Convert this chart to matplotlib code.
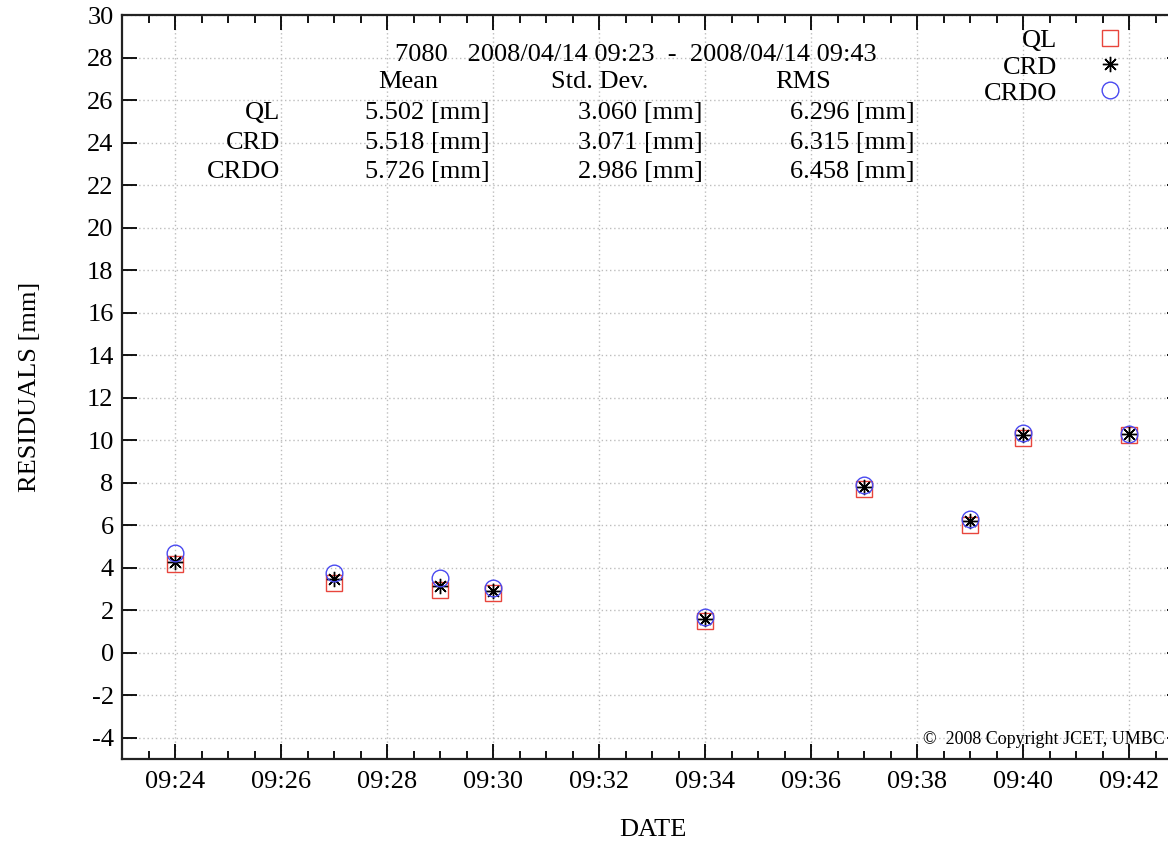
import datetime as dt
import matplotlib
matplotlib.use("Agg")
import matplotlib.pyplot as plt
import matplotlib.dates as mdates
from matplotlib.ticker import MultipleLocator

# data
times = ["09:24", "09:27", "09:29", "09:30", "09:34", "09:37", "09:39", "09:40", "09:42"]
ql = [4.15, 3.30, 2.95, 2.80, 1.50, 7.70, 6.00, 10.10, 10.25]
crd = [4.25, 3.45, 3.15, 2.90, 1.60, 7.80, 6.20, 10.25, 10.30]
crdo = [4.70, 3.75, 3.50, 3.05, 1.70, 7.90, 6.30, 10.35, 10.30]

row_names = ["QL", "CRD", "CRDO"]
mean_txt = ["5.502 [mm]", "5.518 [mm]", "5.726 [mm]"]
std_txt = ["3.060 [mm]", "3.071 [mm]", "2.986 [mm]"]
rms_txt = ["6.296 [mm]", "6.315 [mm]", "6.458 [mm]"]
title_txt = "7080   2008/04/14 09:23  -  2008/04/14 09:43"

day = dt.date(2008, 4, 14)
t = [dt.datetime.combine(day, dt.datetime.strptime(s, "%H:%M").time()) for s in times]

plt.rcParams['font.family'] = ['Liberation Serif', 'DejaVu Serif']
plt.rcParams['axes.unicode_minus'] = False
FS = 19
W, H = 1168, 843

fig = plt.figure(figsize=(W / 100, H / 100), dpi=100)
ax = fig.add_axes([122 / W, 84 / H, 1060 / W, 744 / H])

ax.plot(t, ql, ls='none', marker='s', ms=11, mfc='none', mec='#e8453c', mew=1.0, label="QL")
ax.plot(t, crd, ls='none', marker=(8, 2, 0), ms=11, color='black', mew=1.0, label="CRD")
ax.plot(t, crdo, ls='none', marker='o', ms=12, mfc='none', mec='#4a4af0', mew=1.0, label="CRDO")

ax.set_xlim(dt.datetime(2008, 4, 14, 9, 23), dt.datetime(2008, 4, 14, 9, 43))
ax.set_ylim(-5, 30)
ax.xaxis.set_major_locator(mdates.MinuteLocator(byminute=range(0, 60, 2)))
ax.xaxis.set_minor_locator(mdates.SecondLocator(bysecond=[0, 30]))
ax.xaxis.set_major_formatter(mdates.DateFormatter("%H:%M"))
ax.yaxis.set_major_locator(MultipleLocator(2))

ax.tick_params(which='both', direction='in', top=True, right=True, labelsize=FS, width=1.3, pad=9)
ax.tick_params(which='major', length=11)
ax.tick_params(which='minor', length=6)
ax.tick_params(axis='y', pad=6)
for s in ax.spines.values():
    s.set_linewidth(1.6)
    s.set_color('#222222')

ax.grid(True, which='major', color='#bdbdbd', linestyle=(0, (1, 2)), linewidth=1.0)

fig.text(30 / W, 1 - 387 / H, "RESIDUALS [mm]", rotation=90, ha='center', va='center', fontsize=FS)
fig.text(653 / W, 1 - 830 / H, "DATE", ha='center', va='center', fontsize=FS)


def ftext(x, y, s, ha):
    fig.text(x / W, 1 - y / H, s, ha=ha, va='center', fontsize=FS)


ftext(636, 55, title_txt, 'center')
ftext(408, 82, "Mean", 'center')
ftext(600, 82, "Std. Dev.", 'center')
ftext(803, 82, "RMS", 'center')
for i, yy in enumerate([113, 143, 172]):
    ftext(280, yy, row_names[i], 'right')
    ftext(490, yy, mean_txt[i], 'right')
    ftext(703, yy, std_txt[i], 'right')
    ftext(915, yy, rms_txt[i], 'right')

fig.text(1165 / W, 1 - 739 / H, "\u00a9  2008 Copyright JCET, UMBC", ha='right', va='center', fontsize=13)

ax.legend(loc='upper right', bbox_to_anchor=(1136 / W, 1 - 29 / H), bbox_transform=fig.transFigure,
          markerfirst=False, frameon=False, borderpad=0, borderaxespad=0, handlelength=2,
          handletextpad=1.0, labelspacing=0.1, numpoints=1, fontsize=FS)

fig.savefig("out.png", dpi=100)
